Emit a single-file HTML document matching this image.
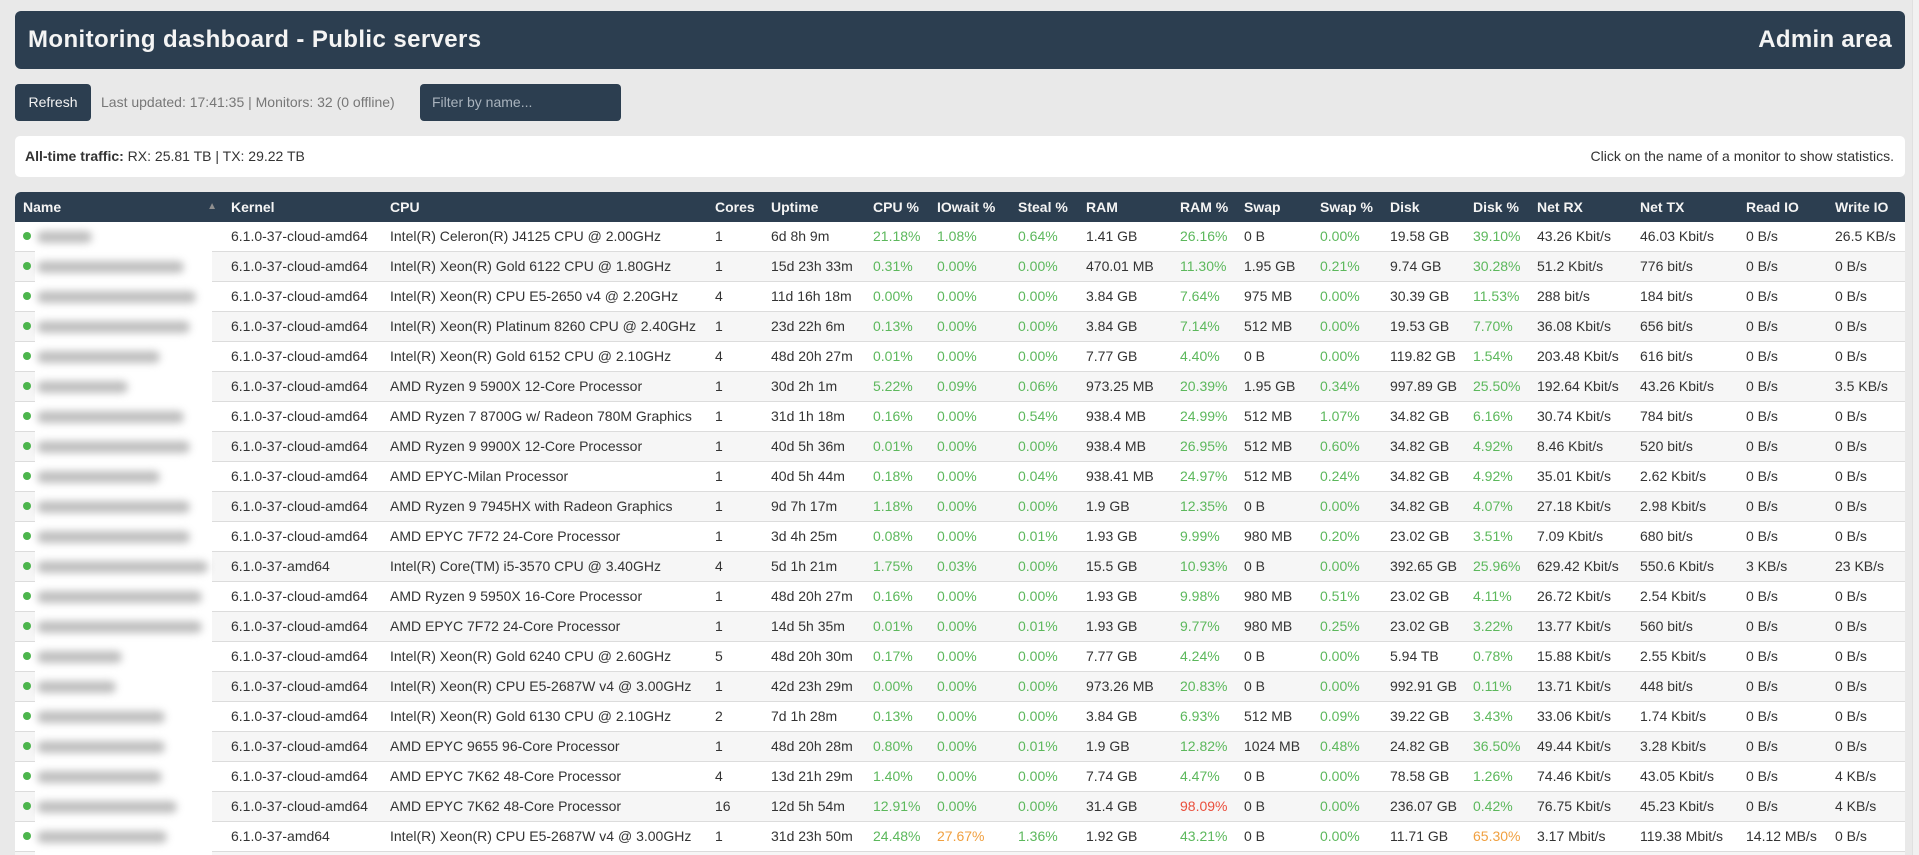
<!DOCTYPE html>
<html><head><meta charset="utf-8">
<style>
*{box-sizing:border-box}
html{margin:0;padding:0;width:1919px;height:855px;overflow:hidden}
body{margin:0;padding:0;width:1919px;height:855px;overflow:hidden;background:#e9e9e9;font-family:"Liberation Sans",Arial,sans-serif;font-size:14px;color:#333;position:relative}
.hdr{position:absolute;left:15px;top:11px;width:1890px;height:58px;background:#2c3e50;border-radius:6px;color:#f4f4f4}
.hdr .t{position:absolute;left:13px;top:0;line-height:58px;font-size:24px;font-weight:bold;letter-spacing:0.4px}
.hdr .a{position:absolute;right:13px;top:0;line-height:58px;font-size:24px;font-weight:bold;letter-spacing:0.3px}
.btn{position:absolute;left:15px;top:84px;width:76px;height:37px;background:#2c3e50;border-radius:4px;color:#f4f4f4;line-height:37px;text-align:center;font-size:14px}
.upd{position:absolute;left:101px;top:84px;line-height:37px;color:#777;font-size:14px}
.flt{position:absolute;left:420px;top:84px;width:201px;height:37px;background:#2c3e50;border-radius:4px;color:#a9b3bd;line-height:37px;padding-left:12px;font-size:14px}
.trf{position:absolute;left:15px;top:136px;width:1890px;height:41px;background:#fff;border-radius:5px;line-height:41px;font-size:14px;color:#333}
.trf .l{position:absolute;left:10px}
.trf .r{position:absolute;right:11px}
.tbl{position:absolute;left:15px;top:192px;width:1890px;height:663px;overflow:hidden;background:#f6f6f6;border-radius:6px 6px 0 0}
.row{display:grid;grid-template-columns:208px 159px 325px 56px 102px 64px 81px 68px 94px 64px 76px 70px 83px 64px 103px 106px 89px 78px;height:30px;border-bottom:1px solid #dcdcdc;line-height:29px;background:#fff;white-space:nowrap}
.row:nth-child(odd){background:#f6f6f6}
.row>span{padding-left:8px;overflow:hidden}
.row.th{background:#2c3e50;color:#f4f4f4;font-weight:bold;border-bottom:none;line-height:30px}
.row.th>span{position:relative}
.arr{position:absolute;right:6px;top:0;font-size:10px;color:#8f8f8f;font-weight:normal;font-style:normal}
.g{color:#5cb85c}.o{color:#f0a040}.rd{color:#ea4f3c}
.dot{display:inline-block;width:8px;height:8px;border-radius:50%;background:#4cb54c;vertical-align:middle;position:relative;top:-1px}
.blur{position:absolute;left:35px;top:226px;width:177px;height:629px;background:#fff}
.b{position:absolute;left:2px;height:12px;background:#b8b8b8;border-radius:6px;filter:blur(4px);opacity:.9}
.sb{position:absolute;right:0;top:0;width:7px;height:855px;background:#f1f1f1;border-left:1px solid #e0e0e0}
</style></head><body>
<div class="hdr"><span class="t">Monitoring dashboard - Public servers</span><span class="a">Admin area</span></div>
<div class="btn">Refresh</div>
<div class="upd">Last updated: 17:41:35 | Monitors: 32 (0 offline)</div>
<div class="flt">Filter by name...</div>
<div class="trf"><span class="l"><b>All-time traffic:</b> RX: 25.81 TB | TX: 29.22 TB</span><span class="r">Click on the name of a monitor to show statistics.</span></div>

<div class="tbl">
<div class="row th"><span>Name<i class="arr">▲</i></span><span>Kernel</span><span>CPU</span><span>Cores</span><span>Uptime</span><span>CPU %</span><span>IOwait %</span><span>Steal %</span><span>RAM</span><span>RAM %</span><span>Swap</span><span>Swap %</span><span>Disk</span><span>Disk %</span><span>Net RX</span><span>Net TX</span><span>Read IO</span><span>Write IO</span></div>
<div class="row"><span><i class="dot"></i></span><span>6.1.0-37-cloud-amd64</span><span>Intel(R) Celeron(R) J4125 CPU @ 2.00GHz</span><span>1</span><span>6d 8h 9m</span><span class="g">21.18%</span><span class="g">1.08%</span><span class="g">0.64%</span><span>1.41 GB</span><span class="g">26.16%</span><span>0 B</span><span class="g">0.00%</span><span>19.58 GB</span><span class="g">39.10%</span><span>43.26 Kbit/s</span><span>46.03 Kbit/s</span><span>0 B/s</span><span>26.5 KB/s</span></div>
<div class="row"><span><i class="dot"></i></span><span>6.1.0-37-cloud-amd64</span><span>Intel(R) Xeon(R) Gold 6122 CPU @ 1.80GHz</span><span>1</span><span>15d 23h 33m</span><span class="g">0.31%</span><span class="g">0.00%</span><span class="g">0.00%</span><span>470.01 MB</span><span class="g">11.30%</span><span>1.95 GB</span><span class="g">0.21%</span><span>9.74 GB</span><span class="g">30.28%</span><span>51.2 Kbit/s</span><span>776 bit/s</span><span>0 B/s</span><span>0 B/s</span></div>
<div class="row"><span><i class="dot"></i></span><span>6.1.0-37-cloud-amd64</span><span>Intel(R) Xeon(R) CPU E5-2650 v4 @ 2.20GHz</span><span>4</span><span>11d 16h 18m</span><span class="g">0.00%</span><span class="g">0.00%</span><span class="g">0.00%</span><span>3.84 GB</span><span class="g">7.64%</span><span>975 MB</span><span class="g">0.00%</span><span>30.39 GB</span><span class="g">11.53%</span><span>288 bit/s</span><span>184 bit/s</span><span>0 B/s</span><span>0 B/s</span></div>
<div class="row"><span><i class="dot"></i></span><span>6.1.0-37-cloud-amd64</span><span>Intel(R) Xeon(R) Platinum 8260 CPU @ 2.40GHz</span><span>1</span><span>23d 22h 6m</span><span class="g">0.13%</span><span class="g">0.00%</span><span class="g">0.00%</span><span>3.84 GB</span><span class="g">7.14%</span><span>512 MB</span><span class="g">0.00%</span><span>19.53 GB</span><span class="g">7.70%</span><span>36.08 Kbit/s</span><span>656 bit/s</span><span>0 B/s</span><span>0 B/s</span></div>
<div class="row"><span><i class="dot"></i></span><span>6.1.0-37-cloud-amd64</span><span>Intel(R) Xeon(R) Gold 6152 CPU @ 2.10GHz</span><span>4</span><span>48d 20h 27m</span><span class="g">0.01%</span><span class="g">0.00%</span><span class="g">0.00%</span><span>7.77 GB</span><span class="g">4.40%</span><span>0 B</span><span class="g">0.00%</span><span>119.82 GB</span><span class="g">1.54%</span><span>203.48 Kbit/s</span><span>616 bit/s</span><span>0 B/s</span><span>0 B/s</span></div>
<div class="row"><span><i class="dot"></i></span><span>6.1.0-37-cloud-amd64</span><span>AMD Ryzen 9 5900X 12-Core Processor</span><span>1</span><span>30d 2h 1m</span><span class="g">5.22%</span><span class="g">0.09%</span><span class="g">0.06%</span><span>973.25 MB</span><span class="g">20.39%</span><span>1.95 GB</span><span class="g">0.34%</span><span>997.89 GB</span><span class="g">25.50%</span><span>192.64 Kbit/s</span><span>43.26 Kbit/s</span><span>0 B/s</span><span>3.5 KB/s</span></div>
<div class="row"><span><i class="dot"></i></span><span>6.1.0-37-cloud-amd64</span><span>AMD Ryzen 7 8700G w/ Radeon 780M Graphics</span><span>1</span><span>31d 1h 18m</span><span class="g">0.16%</span><span class="g">0.00%</span><span class="g">0.54%</span><span>938.4 MB</span><span class="g">24.99%</span><span>512 MB</span><span class="g">1.07%</span><span>34.82 GB</span><span class="g">6.16%</span><span>30.74 Kbit/s</span><span>784 bit/s</span><span>0 B/s</span><span>0 B/s</span></div>
<div class="row"><span><i class="dot"></i></span><span>6.1.0-37-cloud-amd64</span><span>AMD Ryzen 9 9900X 12-Core Processor</span><span>1</span><span>40d 5h 36m</span><span class="g">0.01%</span><span class="g">0.00%</span><span class="g">0.00%</span><span>938.4 MB</span><span class="g">26.95%</span><span>512 MB</span><span class="g">0.60%</span><span>34.82 GB</span><span class="g">4.92%</span><span>8.46 Kbit/s</span><span>520 bit/s</span><span>0 B/s</span><span>0 B/s</span></div>
<div class="row"><span><i class="dot"></i></span><span>6.1.0-37-cloud-amd64</span><span>AMD EPYC-Milan Processor</span><span>1</span><span>40d 5h 44m</span><span class="g">0.18%</span><span class="g">0.00%</span><span class="g">0.04%</span><span>938.41 MB</span><span class="g">24.97%</span><span>512 MB</span><span class="g">0.24%</span><span>34.82 GB</span><span class="g">4.92%</span><span>35.01 Kbit/s</span><span>2.62 Kbit/s</span><span>0 B/s</span><span>0 B/s</span></div>
<div class="row"><span><i class="dot"></i></span><span>6.1.0-37-cloud-amd64</span><span>AMD Ryzen 9 7945HX with Radeon Graphics</span><span>1</span><span>9d 7h 17m</span><span class="g">1.18%</span><span class="g">0.00%</span><span class="g">0.00%</span><span>1.9 GB</span><span class="g">12.35%</span><span>0 B</span><span class="g">0.00%</span><span>34.82 GB</span><span class="g">4.07%</span><span>27.18 Kbit/s</span><span>2.98 Kbit/s</span><span>0 B/s</span><span>0 B/s</span></div>
<div class="row"><span><i class="dot"></i></span><span>6.1.0-37-cloud-amd64</span><span>AMD EPYC 7F72 24-Core Processor</span><span>1</span><span>3d 4h 25m</span><span class="g">0.08%</span><span class="g">0.00%</span><span class="g">0.01%</span><span>1.93 GB</span><span class="g">9.99%</span><span>980 MB</span><span class="g">0.20%</span><span>23.02 GB</span><span class="g">3.51%</span><span>7.09 Kbit/s</span><span>680 bit/s</span><span>0 B/s</span><span>0 B/s</span></div>
<div class="row"><span><i class="dot"></i></span><span>6.1.0-37-amd64</span><span>Intel(R) Core(TM) i5-3570 CPU @ 3.40GHz</span><span>4</span><span>5d 1h 21m</span><span class="g">1.75%</span><span class="g">0.03%</span><span class="g">0.00%</span><span>15.5 GB</span><span class="g">10.93%</span><span>0 B</span><span class="g">0.00%</span><span>392.65 GB</span><span class="g">25.96%</span><span>629.42 Kbit/s</span><span>550.6 Kbit/s</span><span>3 KB/s</span><span>23 KB/s</span></div>
<div class="row"><span><i class="dot"></i></span><span>6.1.0-37-cloud-amd64</span><span>AMD Ryzen 9 5950X 16-Core Processor</span><span>1</span><span>48d 20h 27m</span><span class="g">0.16%</span><span class="g">0.00%</span><span class="g">0.00%</span><span>1.93 GB</span><span class="g">9.98%</span><span>980 MB</span><span class="g">0.51%</span><span>23.02 GB</span><span class="g">4.11%</span><span>26.72 Kbit/s</span><span>2.54 Kbit/s</span><span>0 B/s</span><span>0 B/s</span></div>
<div class="row"><span><i class="dot"></i></span><span>6.1.0-37-cloud-amd64</span><span>AMD EPYC 7F72 24-Core Processor</span><span>1</span><span>14d 5h 35m</span><span class="g">0.01%</span><span class="g">0.00%</span><span class="g">0.01%</span><span>1.93 GB</span><span class="g">9.77%</span><span>980 MB</span><span class="g">0.25%</span><span>23.02 GB</span><span class="g">3.22%</span><span>13.77 Kbit/s</span><span>560 bit/s</span><span>0 B/s</span><span>0 B/s</span></div>
<div class="row"><span><i class="dot"></i></span><span>6.1.0-37-cloud-amd64</span><span>Intel(R) Xeon(R) Gold 6240 CPU @ 2.60GHz</span><span>5</span><span>48d 20h 30m</span><span class="g">0.17%</span><span class="g">0.00%</span><span class="g">0.00%</span><span>7.77 GB</span><span class="g">4.24%</span><span>0 B</span><span class="g">0.00%</span><span>5.94 TB</span><span class="g">0.78%</span><span>15.88 Kbit/s</span><span>2.55 Kbit/s</span><span>0 B/s</span><span>0 B/s</span></div>
<div class="row"><span><i class="dot"></i></span><span>6.1.0-37-cloud-amd64</span><span>Intel(R) Xeon(R) CPU E5-2687W v4 @ 3.00GHz</span><span>1</span><span>42d 23h 29m</span><span class="g">0.00%</span><span class="g">0.00%</span><span class="g">0.00%</span><span>973.26 MB</span><span class="g">20.83%</span><span>0 B</span><span class="g">0.00%</span><span>992.91 GB</span><span class="g">0.11%</span><span>13.71 Kbit/s</span><span>448 bit/s</span><span>0 B/s</span><span>0 B/s</span></div>
<div class="row"><span><i class="dot"></i></span><span>6.1.0-37-cloud-amd64</span><span>Intel(R) Xeon(R) Gold 6130 CPU @ 2.10GHz</span><span>2</span><span>7d 1h 28m</span><span class="g">0.13%</span><span class="g">0.00%</span><span class="g">0.00%</span><span>3.84 GB</span><span class="g">6.93%</span><span>512 MB</span><span class="g">0.09%</span><span>39.22 GB</span><span class="g">3.43%</span><span>33.06 Kbit/s</span><span>1.74 Kbit/s</span><span>0 B/s</span><span>0 B/s</span></div>
<div class="row"><span><i class="dot"></i></span><span>6.1.0-37-cloud-amd64</span><span>AMD EPYC 9655 96-Core Processor</span><span>1</span><span>48d 20h 28m</span><span class="g">0.80%</span><span class="g">0.00%</span><span class="g">0.01%</span><span>1.9 GB</span><span class="g">12.82%</span><span>1024 MB</span><span class="g">0.48%</span><span>24.82 GB</span><span class="g">36.50%</span><span>49.44 Kbit/s</span><span>3.28 Kbit/s</span><span>0 B/s</span><span>0 B/s</span></div>
<div class="row"><span><i class="dot"></i></span><span>6.1.0-37-cloud-amd64</span><span>AMD EPYC 7K62 48-Core Processor</span><span>4</span><span>13d 21h 29m</span><span class="g">1.40%</span><span class="g">0.00%</span><span class="g">0.00%</span><span>7.74 GB</span><span class="g">4.47%</span><span>0 B</span><span class="g">0.00%</span><span>78.58 GB</span><span class="g">1.26%</span><span>74.46 Kbit/s</span><span>43.05 Kbit/s</span><span>0 B/s</span><span>4 KB/s</span></div>
<div class="row"><span><i class="dot"></i></span><span>6.1.0-37-cloud-amd64</span><span>AMD EPYC 7K62 48-Core Processor</span><span>16</span><span>12d 5h 54m</span><span class="g">12.91%</span><span class="g">0.00%</span><span class="g">0.00%</span><span>31.4 GB</span><span class="rd">98.09%</span><span>0 B</span><span class="g">0.00%</span><span>236.07 GB</span><span class="g">0.42%</span><span>76.75 Kbit/s</span><span>45.23 Kbit/s</span><span>0 B/s</span><span>4 KB/s</span></div>
<div class="row"><span><i class="dot"></i></span><span>6.1.0-37-amd64</span><span>Intel(R) Xeon(R) CPU E5-2687W v4 @ 3.00GHz</span><span>1</span><span>31d 23h 50m</span><span class="g">24.48%</span><span class="o">27.67%</span><span class="g">1.36%</span><span>1.92 GB</span><span class="g">43.21%</span><span>0 B</span><span class="g">0.00%</span><span>11.71 GB</span><span class="o">65.30%</span><span>3.17 Mbit/s</span><span>119.38 Mbit/s</span><span>14.12 MB/s</span><span>0 B/s</span></div>
</div>

<div class="blur">
<div class="b" style="top:5px;width:55px"></div>
<div class="b" style="top:35px;width:147px"></div>
<div class="b" style="top:65px;width:159px"></div>
<div class="b" style="top:95px;width:153px"></div>
<div class="b" style="top:125px;width:123px"></div>
<div class="b" style="top:155px;width:91px"></div>
<div class="b" style="top:185px;width:147px"></div>
<div class="b" style="top:215px;width:153px"></div>
<div class="b" style="top:245px;width:123px"></div>
<div class="b" style="top:275px;width:153px"></div>
<div class="b" style="top:305px;width:153px"></div>
<div class="b" style="top:335px;width:171px"></div>
<div class="b" style="top:365px;width:165px"></div>
<div class="b" style="top:395px;width:165px"></div>
<div class="b" style="top:425px;width:85px"></div>
<div class="b" style="top:455px;width:79px"></div>
<div class="b" style="top:485px;width:128px"></div>
<div class="b" style="top:515px;width:128px"></div>
<div class="b" style="top:545px;width:125px"></div>
<div class="b" style="top:575px;width:140px"></div>
<div class="b" style="top:605px;width:130px"></div>
</div>
<div class="sb"></div>
</body></html>
